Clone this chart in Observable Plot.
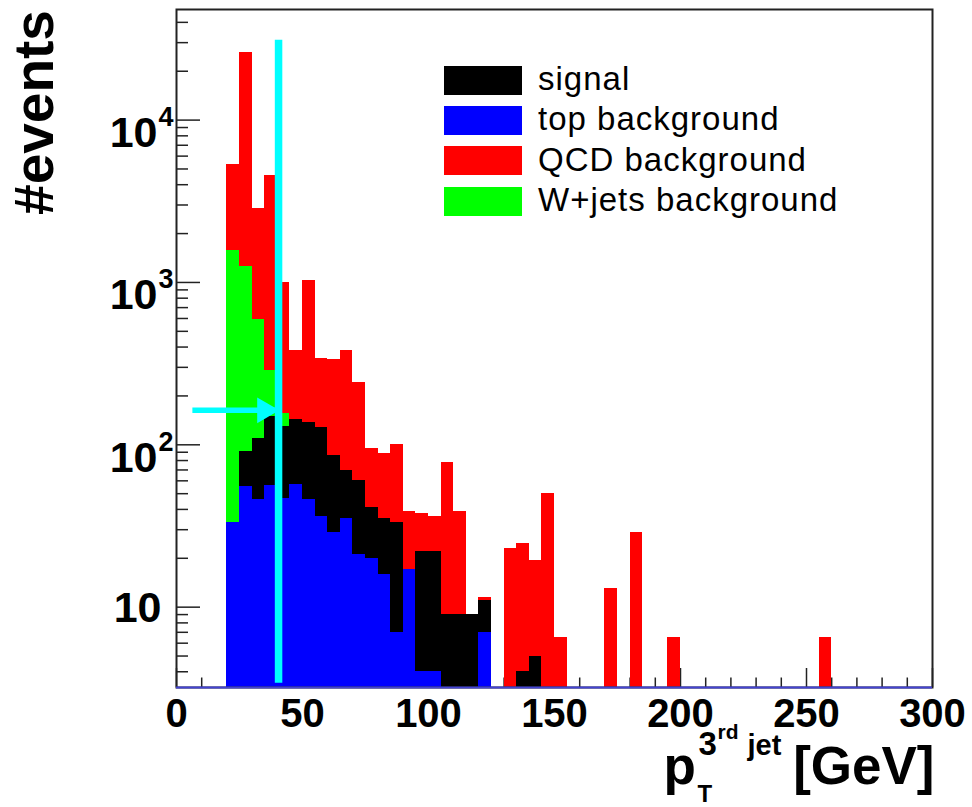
<!DOCTYPE html>
<html>
<head>
<meta charset="utf-8">
<script src="https://cdn.jsdelivr.net/npm/d3@7"></script>
<script src="https://cdn.jsdelivr.net/npm/@observablehq/plot@0.6"></script>
<style>
  html, body { margin: 0; padding: 0; background: #fff; }
  #chart { position: relative; width: 972px; height: 807px; }
  .legend { position: absolute; left: 444px; top: 60px; font-family: "Liberation Sans", Arial, sans-serif; font-size: 33px; letter-spacing: 1px; color: #000; }
  .legend .row { display: flex; align-items: center; height: 40.3px; }
  .legend .swatch { width: 78px; height: 29px; margin-right: 16px; flex: none; }
  .legend .label { position: relative; top: -1px; white-space: nowrap; }
</style>
</head>
<body>
<div id="chart"></div>
<script>
// pT of the third jet, 5 GeV bins (lower edges of the bins that hold events)
const binWidth = 5;
const binLow = [20, 25, 30, 35, 40, 45, 50, 55, 60, 65, 70, 75, 80, 85, 90, 95, 100, 105, 110, 115, 120,
                130, 135, 140, 145, 150, 170, 180, 195, 255];
// events per bin for each sample (stacked bottom to top: top, signal, W+jets, QCD)
const topBkg = [33, 55, 46, 56, 47, 57, 46, 36, 29, 35, 21, 20, 16, 7, 17, 4, 4, 0, 0, 0, 7,
                0, 0, 0, 0, 0, 0, 0, 0, 0];
const signal = [0, 36, 64, 94, 83, 87, 91, 92, 57, 34, 39, 21, 19, 26, 0, 18, 18, 9, 9, 9, 4,
                0, 4, 5, 0, 0, 0, 0, 0, 0];
const wjets  = [1547, 1169, 481, 138, 25, 0, 0, 0, 0, 0, 0, 0, 0, 0, 0, 0, 0, 0, 0, 0, 0,
                0, 0, 0, 0, 0, 0, 0, 0, 0];
const qcd    = [3720, 24940, 2259, 4292, 845, 238, 893, 212, 249, 310, 183, 54, 53, 67, 22, 15.5, 14, 69, 30, 0, 0.5,
                23, 20.5, 14.5, 50, 6.5, 13, 29, 6.5, 6.5];

const samples = [
  {name: "signal", color: "#000000"},
  {name: "top background", color: "#0000ff"},
  {name: "QCD background", color: "#ff0000"},
  {name: "W+jets background", color: "#00ff00"}
];

// selection cut on the third-jet pT and the marker pointing at it
const cut = 40.5;
const cutSpan = [3.4, 31000];
const arrowFrom = 6.3;
const arrowLevel = 163;

// axis ranges and ticks
const xDomain = [0, 300];
const yDomain = [3.2, 48000];
const xMajor = [0, 50, 100, 150, 200, 250, 300];
const xMinor = d3.range(10, 300, 10).filter(v => v % 50 !== 0);
const yMajor = [10, 100, 1000, 10000];
const yExponent = ["", "2", "3", "4"];
const yMinor = [4, 5, 6, 7, 8, 9, 20, 30, 40, 50, 60, 70, 80, 90, 200, 300, 400, 500, 600, 700, 800, 900,
                2000, 3000, 4000, 5000, 6000, 7000, 8000, 9000, 20000, 30000, 40000];

// cumulative stack levels per bin
const bins = binLow.map((x, i) => {
  const l1 = topBkg[i];
  const l2 = l1 + signal[i];
  const l3 = l2 + wjets[i];
  const l4 = l3 + qcd[i];
  return {x1: x, x2: x + binWidth, top: l1, sig: l2, w: l3, all: l4};
});

const W = 972, H = 807;
const mL = 176, mR = 40, mT = 9, mB = 120;
const innerW = W - mL - mR, innerH = H - mT - mB;
const bottom = H - mB;
const font = "Liberation Sans, Arial, Helvetica, sans-serif";

function layer(key, color) {
  return Plot.rectY(bins.filter(d => d[key] > 0), {
    x1: "x1", x2: "x2", y1: yDomain[0], y2: key, fill: color, shapeRendering: "crispEdges"
  });
}

function piece(text, x, baseline, size, anchor = "start") {
  return Plot.text([text], {
    text: d => d, frameAnchor: "bottom-left", dx: x - mL, dy: baseline - bottom, lineAnchor: "bottom",
    textAnchor: anchor, fontSize: size, fontWeight: "bold", fill: "#000"
  });
}

const powers = yMajor.filter((d, i) => yExponent[i] !== "");
const plain = yMajor.filter((d, i) => yExponent[i] === "");

const chart = Plot.plot({
  width: W, height: H,
  marginLeft: mL, marginRight: mR, marginTop: mT, marginBottom: mB,
  x: {domain: xDomain, axis: null},
  y: {type: "log", domain: yDomain, axis: null},
  style: {fontFamily: font, background: "#fff", color: "#000"},
  marks: [
    // tick marks drawn inward from the bottom and left edges
    Plot.ruleX(xMajor, {x: d => d, insetTop: innerH - 19, stroke: "#222", strokeWidth: 1.5}),
    Plot.ruleX(xMinor, {x: d => d, insetTop: innerH - 9.5, stroke: "#222", strokeWidth: 1.5}),
    Plot.ruleY(yMajor, {y: d => d, insetRight: innerW - 24, stroke: "#222", strokeWidth: 1.5}),
    Plot.ruleY(yMinor, {y: d => d, insetRight: innerW - 12, stroke: "#222", strokeWidth: 1.5}),

    // stacked histogram, each sum filled from the bottom of the frame
    layer("all", "#ff0000"),
    layer("w", "#00ff00"),
    layer("sig", "#000000"),
    layer("top", "#0000ff"),

    // arrow pointing at the cut, then the cut line
    Plot.link([{x1: arrowFrom, x2: cut, y: arrowLevel}], {
      x1: "x1", x2: "x2", y1: "y", y2: "y", stroke: "#00ffff", strokeWidth: 5.5
    }),
    Plot.dot([{x: cut, y: arrowLevel}], {
      x: "x", y: "y", symbol: "triangle", rotate: 90, r: 9.5, dx: -14, fill: "#00ffff", stroke: "none"
    }),
    Plot.ruleX([cut], {x: d => d, y1: cutSpan[0], y2: cutSpan[1], stroke: "#00ffff", strokeWidth: 7.5}),

    // frame
    Plot.frame({stroke: "#222", strokeWidth: 2}),
    Plot.ruleY([yDomain[0]], {y: d => d, stroke: "#4343d3", strokeWidth: 2}),

    // x tick labels
    Plot.text(xMajor, {x: d => d, text: d => String(d), frameAnchor: "bottom", dy: 726 - bottom, lineAnchor: "bottom",
      fontSize: 40, fontWeight: "bold", fill: "#000"}),
    // y tick labels: 10, 10^2, 10^3, 10^4
    Plot.text(plain, {y: d => d, text: () => "10", frameAnchor: "left",
      textAnchor: "end", lineAnchor: "bottom", dx: -15, dy: 15, fontSize: 43, fontWeight: "bold", fill: "#000"}),
    Plot.text(powers, {y: d => d, text: () => "10", frameAnchor: "left",
      textAnchor: "end", lineAnchor: "bottom", dx: -19, dy: 27, fontSize: 43, fontWeight: "bold", fill: "#000"}),
    Plot.text(powers, {y: d => d, text: d => yExponent[yMajor.indexOf(d)], frameAnchor: "left",
      textAnchor: "start", lineAnchor: "bottom", dx: -18, dy: 6, fontSize: 27, fontWeight: "bold", fill: "#000"}),

    // y title
    Plot.text(["#events"], {text: d => d, frameAnchor: "top-left", dx: 13 - mL, dy: 112 - mT,
      rotate: -90, textAnchor: "middle", fontSize: 55, fontWeight: "bold", fill: "#000"}),

    // x title: p_T^{3rd jet}[GeV]
    piece("p", 663, 783, 53),
    piece("T", 697, 801, 24),
    piece("3", 698, 754, 33),
    piece("rd", 717, 738, 21),
    piece("jet", 747, 754, 29),
    piece("[GeV]", 934, 783, 53, "end")
  ]
});

const host = document.getElementById("chart");
host.appendChild(chart);

// legend inside the frame
const legend = d3.select(host).append("div").attr("class", "legend");
for (const s of samples) {
  const row = legend.append("div").attr("class", "row");
  row.append("div").attr("class", "swatch").style("background", s.color);
  row.append("div").attr("class", "label").text(s.name);
}
</script>
</body>
</html>
